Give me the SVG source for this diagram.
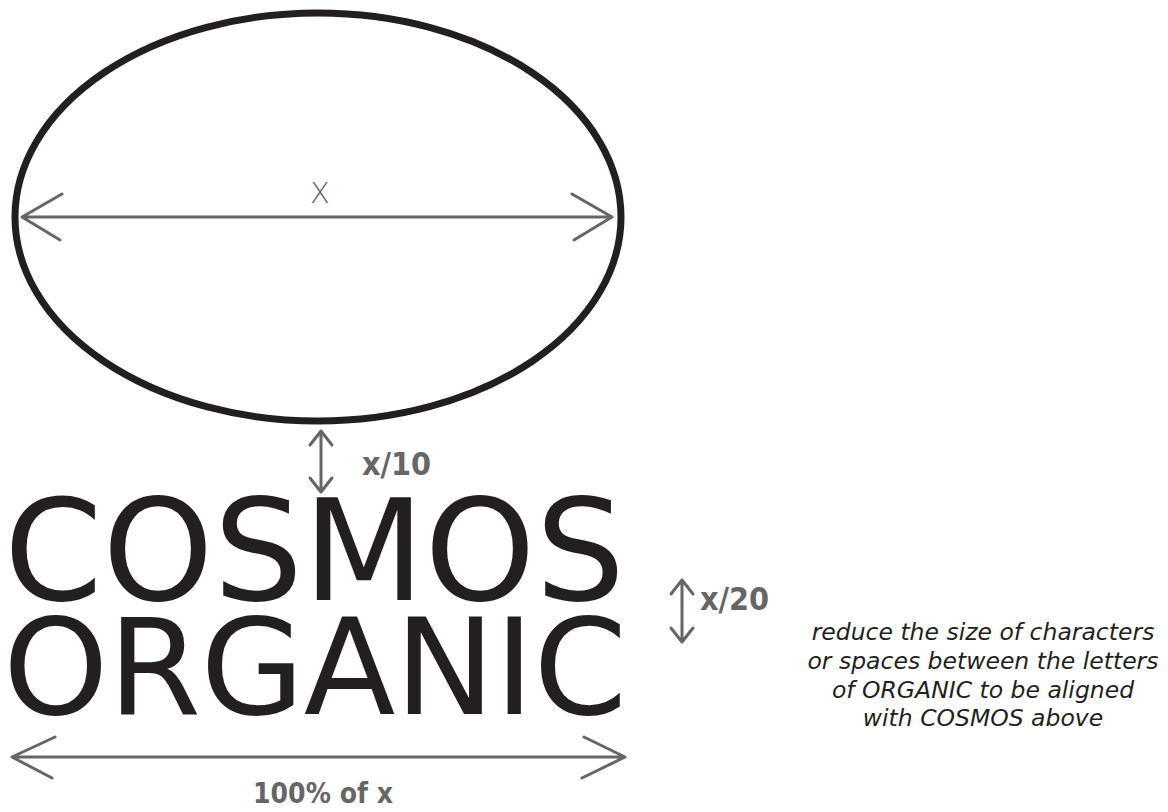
<svg xmlns="http://www.w3.org/2000/svg" width="1168" height="812" viewBox="0 0 1168 812">
<style>
.dim{stroke:#666;stroke-width:3;fill:none;stroke-linecap:round;stroke-linejoin:round}
.big{font-family:"DejaVu Sans",Verdana,sans-serif;fill:#231f20}
.lbl{font-family:"DejaVu Sans","Liberation Sans",sans-serif;font-weight:bold;fill:#666;font-stretch:condensed}
.note{font-family:"DejaVu Sans",Verdana,sans-serif;font-style:italic;font-size:23.5px;fill:#231f20;text-anchor:middle}
</style>
<rect width="1168" height="812" fill="#fff"/>
<g id="ellipse">
<ellipse cx="318" cy="217" rx="303" ry="204" fill="none" stroke="#231f20" stroke-width="7"/>
</g>
<g id="wordmark">
<text class="big" x="4" y="600" style="font-size:141px">COSMOS</text>
<text class="big" x="3" y="714" style="font-size:134px" textLength="624" lengthAdjust="spacing">ORGANIC</text>
</g>
<g id="note">
<text class="note" x="983" y="640">reduce the size of characters</text>
<text class="note" x="983" y="669">or spaces between the letters</text>
<text class="note" x="983" y="698">of ORGANIC to be aligned</text>
<text class="note" x="983" y="726">with COSMOS above</text>
</g>
<g id="connectors">
<path class="dim" d="M22 217H612M62 194L22 217L60 240M572 194L612 217L574 240"/>
<path class="dim" d="M321 431V492M310 445L321 431L332 445M310 478L321 492L332 478"/>
<path class="dim" d="M682 580V642M671 594L682 580L693 594M671 628L682 642L693 628"/>
<path class="dim" d="M12 757H625M55 737L12 757L52 778M584 737L625 757L582 778"/>
</g>
<g id="labels">
<text x="320" y="203" text-anchor="middle" style="font-family:'DejaVu Sans',sans-serif;font-weight:200;font-size:29px;fill:#666">X</text>
<text class="lbl" x="362" y="475" style="font-size:32px">x/10</text>
<text class="lbl" x="700" y="610" style="font-size:32px">x/20</text>
<text class="lbl" x="323" y="803" text-anchor="middle" style="font-size:28px">100% of x</text>
</g>
</svg>
